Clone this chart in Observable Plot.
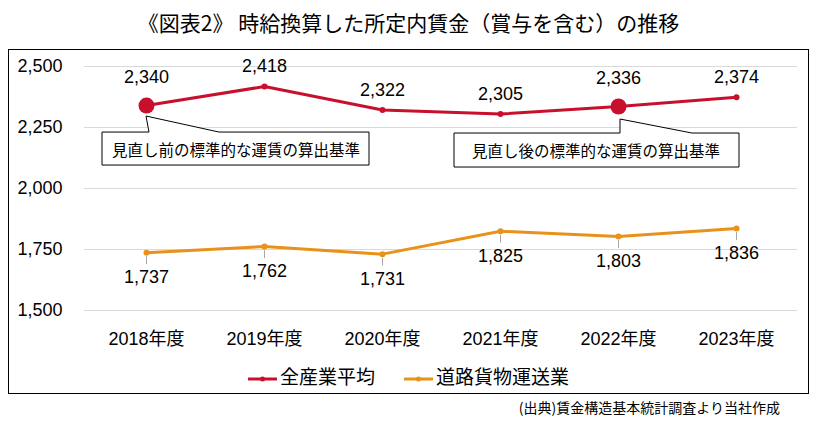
<!DOCTYPE html>
<html><head><meta charset="utf-8">
<script src="https://cdn.jsdelivr.net/npm/d3@7"></script>
<script src="https://cdn.jsdelivr.net/npm/@observablehq/plot@0.6"></script>
<style>
body{margin:0;background:#fff;width:817px;height:424px;position:relative;overflow:hidden;font-family:"Liberation Sans",Arial,"Noto Sans CJK JP",sans-serif;color:#000}
#title{position:absolute;left:0;top:8px;width:817px;text-align:center;font-size:21px;line-height:28px;font-family:"Noto Sans CJK JP",sans-serif}
#box{position:absolute;left:8px;top:49px;width:801px;height:345px;border:1px solid #000;box-sizing:border-box}
#chart{position:absolute;left:0;top:49px}
.leg{position:absolute;top:364px;height:24px;line-height:24px;font-size:19px;font-family:"Noto Sans CJK JP",sans-serif;white-space:nowrap}
.leg svg{vertical-align:middle;margin-right:3px}
#caption{position:absolute;right:37px;top:398px;font-size:14px;line-height:18px;font-family:"Noto Sans CJK JP",sans-serif}
</style></head>
<body>
<div id="title">《図表2》 時給換算した所定内賃金（賞与を含む）の推移</div>
<div id="box"></div>
<div id="chart"></div>
<div id="legend"></div>
<div id="caption">(出典)賃金構造基本統計調査より当社作成</div>
<script>
const years = ["2018年度","2019年度","2020年度","2021年度","2022年度","2023年度"];
const allIndustry = [2340, 2418, 2322, 2305, 2336, 2374];
const roadFreight = [1737, 1762, 1731, 1825, 1803, 1836];
const seriesNames = ["全産業平均","道路貨物運送業"];
const highlightedYears = ["2018年度","2022年度"];
const calloutYears = ["2018年度","2022年度"];
const calloutTexts = ["見直し前の標準的な運賃の算出基準","見直し後の標準的な運賃の算出基準"];
const yTicks = [1500, 1750, 2000, 2250, 2500];

const RED = "#C8102E", ORANGE = "#E8921B";
const red = years.map((y,i)=>({year:y, value:allIndustry[i], big:highlightedYears.includes(y)}));
const orange = years.map((y,i)=>({year:y, value:roadFreight[i]}));
const fmt = d3.format(",");

// callout geometry relative to anchor point (pixels)
const calloutGeom = [
  {tip:[0,11], tl:[3,26], tr:[73,26], left:-44, right:223, top:27, bottom:60, tx:90, ty:44},
  {tip:[2,13], tl:[2,27], tr:[74,27], left:-164, right:121, top:27, bottom:61, tx:-22, ty:44}
];

const calloutMark = (index, scales) => {
  const g = d3.create("svg:g");
  calloutYears.forEach((yr, i) => {
    const val = allIndustry[years.indexOf(yr)];
    const bw = scales.x.bandwidth ? scales.x.bandwidth()/2 : 0;
    const px = scales.x(yr) + bw, py = scales.y(val);
    const c = calloutGeom[i];
    const p = [
      [c.left, c.top], [c.tl[0], c.top], [c.tip[0], c.tip[1]], [c.tr[0], c.top],
      [c.right, c.top], [c.right, c.bottom], [c.left, c.bottom]
    ].map(([a,b]) => [px + a, py + b]);
    g.append("path")
      .attr("d", "M" + p.map(d=>d.join(",")).join("L") + "Z")
      .attr("fill", "#fff").attr("stroke", "#000").attr("stroke-width", 1);
    g.append("text")
      .attr("x", px + c.tx).attr("y", py + c.ty)
      .attr("text-anchor", "middle").attr("dominant-baseline", "central")
      .attr("font-size", 15.5).attr("font-family", "'Noto Sans CJK JP',sans-serif")
      .attr("fill", "#000")
      .text(calloutTexts[i]);
  });
  return g.node();
};

const leaderShape = {draw(ctx, l){ ctx.moveTo(0,0); ctx.lineTo(0,-l); }};

const plot = Plot.plot({
  width: 817, height: 305,
  marginLeft: 84, marginRight: 20, marginTop: 17, marginBottom: 44,
  style: {fontFamily: "'Liberation Sans',Arial,'Noto Sans CJK JP',sans-serif", fontSize: "18px", color: "#000", background: "transparent"},
  x: {type: "point", domain: years, padding: 0.5, label: null},
  y: {domain: [1500, 2500], label: null},
  marks: [
    Plot.gridY(yTicks, {stroke: "#d9d9d9", strokeOpacity: 1, strokeWidth: 1}),
    Plot.axisY(yTicks, {tickSize: 0, tickPadding: 22, tickFormat: fmt, fontSize: 18, label: null}),
    Plot.axisX({tickSize: 0, tickPadding: 22, fontSize: 18, label: null}),
    Plot.vector(orange, {x: "year", y: "value", length: 7, rotate: 180, anchor: "start", dy: 4, shape: leaderShape, stroke: "#a6a6a6", strokeWidth: 1}),
    Plot.line(orange, {x: "year", y: "value", stroke: ORANGE, strokeWidth: 3}),
    Plot.dot(orange, {x: "year", y: "value", r: 3, fill: ORANGE}),
    Plot.text(orange, {x: "year", y: "value", text: d => fmt(d.value), dy: 25, fill: "#000", fontSize: 18}),
    calloutMark,
    Plot.line(red, {x: "year", y: "value", stroke: RED, strokeWidth: 3}),
    Plot.dot(red.filter(d=>!d.big), {x: "year", y: "value", r: 3, fill: RED}),
    Plot.dot(red.filter(d=>d.big), {x: "year", y: "value", r: 8, fill: RED}),
    Plot.text(red.filter(d=>d.big), {x: "year", y: "value", text: d => fmt(d.value), dy: -28, fill: "#000", fontSize: 18}),
    Plot.text(red.filter(d=>!d.big), {x: "year", y: "value", text: d => fmt(d.value), dy: -20, fill: "#000", fontSize: 18})
  ]
});
document.getElementById("chart").appendChild(plot);

// legend
const legend = document.getElementById("legend");
const legendLeft = [248, 404];
const legendColors = [RED, ORANGE];
seriesNames.forEach((name, i) => {
  const d = document.createElement("div");
  d.className = "leg";
  d.style.left = legendLeft[i] + "px";
  d.innerHTML = `<svg width="29" height="10"><line x1="0" y1="5" x2="29" y2="5" stroke="${legendColors[i]}" stroke-width="3"/><circle cx="14.5" cy="5" r="2.5" fill="${legendColors[i]}"/></svg>${name}`;
  legend.appendChild(d);
});
</script>
</body></html>
